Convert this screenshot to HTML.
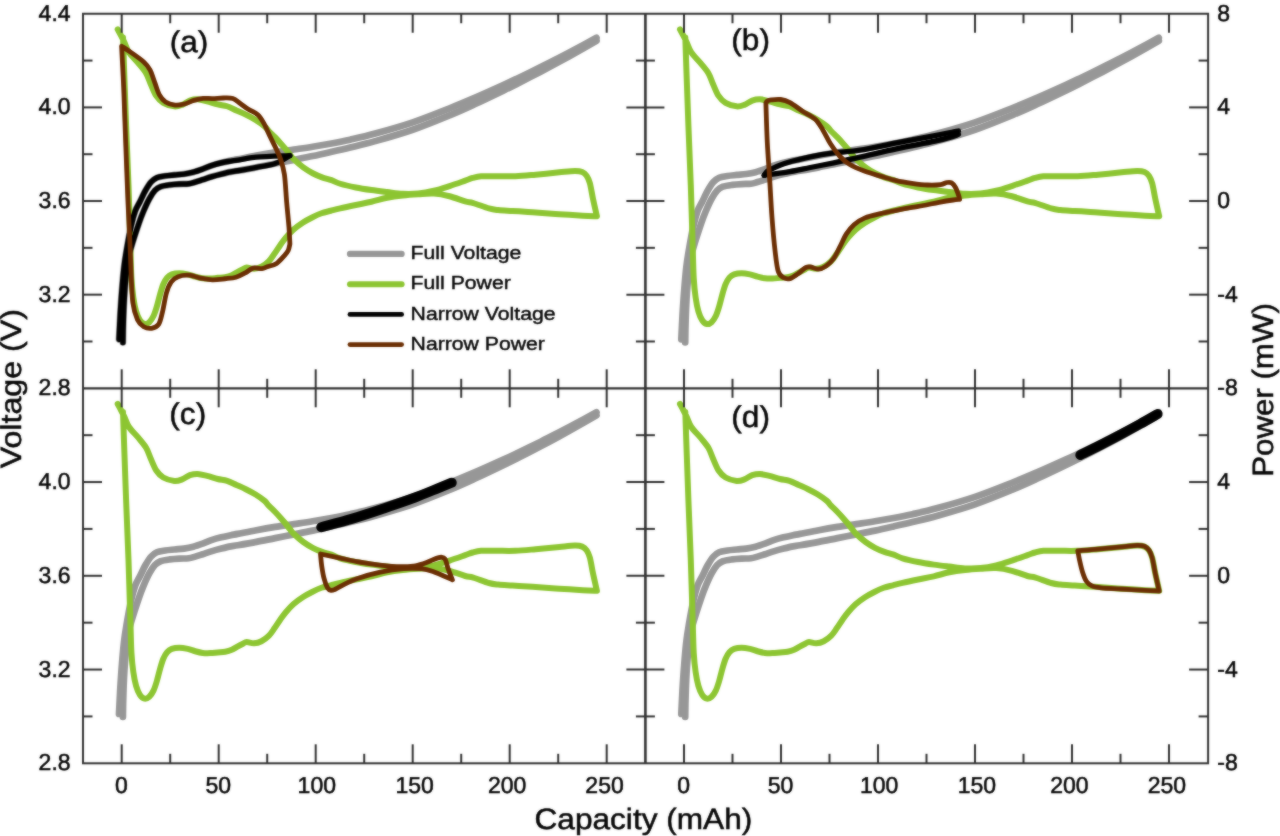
<!DOCTYPE html>
<html lang="en"><head><meta charset="utf-8"><title>Voltage and power vs capacity</title>
<style>
html,body{margin:0;padding:0;background:#fff;}
body{width:1280px;height:836px;overflow:hidden;position:relative;font-family:"Liberation Sans",Arial,sans-serif;}
</style></head><body>
<svg width="1280" height="836" viewBox="0 0 1280 836" style="position:absolute;left:0;top:0;display:block">
<defs><filter id="soft" x="0" y="0" width="1280" height="836" filterUnits="userSpaceOnUse" color-interpolation-filters="sRGB"><feGaussianBlur in="SourceGraphic" stdDeviation="0.8" result="b"/><feComposite in="SourceGraphic" in2="b" operator="arithmetic" k1="0" k2="0.5" k3="0.5" k4="0"/></filter></defs>
<g filter="url(#soft)">
<rect width="1280" height="836" fill="#fff"/>
<path d="M122.90 342.45 C122.95 339.62 123.03 331.62 123.20 325.45 C123.37 319.28 123.55 312.45 123.90 305.45 C124.25 298.45 124.62 290.95 125.30 283.45 C125.98 275.95 127.02 266.47 128.00 260.45 C128.98 254.43 129.37 253.55 131.20 247.35 C133.03 241.15 136.88 229.30 138.95 223.25 C141.02 217.20 141.87 215.12 143.60 211.05 C145.32 206.98 147.42 202.28 149.30 198.85 C151.18 195.42 153.03 192.47 154.90 190.45 C156.77 188.42 158.00 187.63 160.50 186.70 C163.00 185.77 166.77 185.29 169.90 184.85 C173.03 184.41 176.18 184.23 179.30 184.05 C182.42 183.87 185.95 184.08 188.60 183.75 C191.25 183.42 192.85 182.73 195.20 182.05 C197.55 181.37 199.88 180.57 202.70 179.65 C205.52 178.73 208.97 177.48 212.10 176.55 C215.22 175.62 218.33 174.83 221.45 174.05 C224.57 173.27 228.09 172.40 230.80 171.85 C233.51 171.30 233.42 171.50 237.70 170.75 C241.97 170.00 250.20 168.55 256.45 167.35 C262.70 166.15 268.95 164.80 275.20 163.55 C281.45 162.30 287.70 161.10 293.95 159.85 C300.20 158.60 306.45 157.38 312.70 156.05 C318.95 154.72 325.20 153.28 331.45 151.85 C337.70 150.42 342.91 149.23 350.20 147.45 C357.49 145.67 364.78 144.10 375.20 141.15 C385.62 138.20 400.20 134.10 412.70 129.75 C425.20 125.40 439.78 119.34 450.20 115.05 C460.62 110.76 466.35 108.07 475.20 104.00 C484.05 99.93 496.27 94.04 503.30 90.65 C510.33 87.26 511.17 86.81 517.40 83.65 C523.63 80.49 533.98 75.20 540.70 71.70 C547.42 68.20 551.53 66.01 557.70 62.65 C563.87 59.29 571.23 55.20 577.70 51.55 C584.17 47.90 593.37 42.55 596.50 40.75" fill="none" stroke="#979797" stroke-width="6.7" stroke-linecap="round" stroke-linejoin="round"/>
<path d="M119.00 339.45 C119.12 337.12 119.45 330.28 119.70 325.45 C119.95 320.62 120.13 316.28 120.50 310.45 C120.87 304.62 121.32 297.62 121.90 290.45 C122.48 283.28 123.23 274.12 124.00 267.45 C124.77 260.78 125.30 257.45 126.50 250.45 C127.70 243.45 129.75 232.02 131.20 225.45 C132.65 218.88 133.75 215.01 135.20 211.05 C136.65 207.09 138.18 205.13 139.90 201.70 C141.62 198.27 143.63 193.72 145.50 190.45 C147.37 187.17 149.22 184.17 151.10 182.05 C152.98 179.93 154.45 178.77 156.80 177.75 C159.15 176.73 162.23 176.42 165.20 175.95 C168.17 175.48 171.47 175.27 174.60 174.95 C177.72 174.63 180.83 174.52 183.95 174.05 C187.07 173.58 190.18 172.98 193.30 172.15 C196.43 171.32 199.57 170.18 202.70 169.05 C205.83 167.92 208.97 166.40 212.10 165.35 C215.22 164.30 218.33 163.53 221.45 162.75 C224.57 161.97 228.09 161.22 230.80 160.65 C233.51 160.08 233.42 160.18 237.70 159.35 C241.97 158.52 250.20 156.82 256.45 155.65 C262.70 154.48 268.95 153.37 275.20 152.35 C281.45 151.33 287.70 150.49 293.95 149.55 C300.20 148.61 306.45 147.72 312.70 146.70 C318.95 145.68 325.20 144.62 331.45 143.45 C337.70 142.28 342.91 141.30 350.20 139.65 C357.49 138.00 364.78 136.43 375.20 133.55 C385.62 130.67 400.20 126.60 412.70 122.35 C425.20 118.10 439.78 112.18 450.20 108.05 C460.62 103.93 466.35 101.43 475.20 97.60 C484.05 93.77 496.27 88.24 503.30 85.05 C510.33 81.86 511.17 81.44 517.40 78.45 C523.63 75.46 533.98 70.43 540.70 67.10 C547.42 63.77 551.53 61.64 557.70 58.45 C563.87 55.26 571.23 51.40 577.70 47.95 C584.17 44.50 593.37 39.45 596.50 37.75" fill="none" stroke="#979797" stroke-width="6.7" stroke-linecap="round" stroke-linejoin="round"/>
<path d="M117.70 29.45 C118.28 30.53 120.12 33.87 121.20 35.95 C122.28 38.03 122.90 39.20 124.20 41.95 C125.50 44.70 126.65 48.92 129.00 52.45 C131.35 55.98 135.45 59.68 138.30 63.15 C141.15 66.62 144.02 69.73 146.10 73.25 C148.18 76.77 149.10 80.47 150.80 84.25 C152.50 88.03 154.22 92.83 156.30 95.95 C158.38 99.07 160.30 101.22 163.30 102.95 C166.30 104.68 171.17 106.03 174.30 106.35 C177.43 106.67 179.50 105.80 182.10 104.85 C184.70 103.90 187.30 101.57 189.90 100.65 C192.50 99.73 194.83 99.23 197.70 99.35 C200.57 99.47 203.77 100.50 207.10 101.35 C210.43 102.20 214.37 103.63 217.70 104.45 C221.03 105.27 223.97 105.25 227.10 106.25 C230.22 107.25 233.33 109.05 236.45 110.45 C239.57 111.85 242.68 113.10 245.80 114.65 C248.93 116.20 252.07 117.80 255.20 119.75 C258.33 121.70 262.35 124.47 264.60 126.35 C266.85 128.23 266.93 129.20 268.70 131.05 C270.47 132.90 273.17 135.35 275.20 137.45 C277.23 139.55 279.12 141.65 280.90 143.65 C282.68 145.65 284.40 147.62 285.90 149.45 C287.40 151.28 288.56 152.98 289.90 154.65 C291.24 156.32 291.72 157.32 293.95 159.45 C296.18 161.58 300.18 165.15 303.30 167.45 C306.43 169.75 309.57 171.60 312.70 173.25 C315.83 174.90 318.97 176.20 322.10 177.35 C325.22 178.50 328.43 179.08 331.45 180.15 C334.47 181.22 336.14 182.53 340.20 183.75 C344.26 184.97 350.59 186.40 355.80 187.45 C361.01 188.50 366.23 189.28 371.45 190.05 C376.67 190.82 381.89 191.42 387.10 192.05 C392.31 192.68 397.50 193.60 402.70 193.85 C407.90 194.10 413.09 194.07 418.30 193.55 C423.51 193.03 428.73 192.00 433.95 190.75 C439.17 189.50 444.39 187.73 449.60 186.05 C454.81 184.37 461.35 182.00 465.20 180.65 C469.05 179.30 470.05 178.68 472.70 177.95 C475.35 177.22 477.10 176.53 481.10 176.25 C485.10 175.97 490.97 176.25 496.70 176.25 C502.43 176.25 509.00 176.52 515.50 176.25 C522.00 175.98 528.40 175.30 535.70 174.65 C543.00 174.00 552.77 172.95 559.30 172.35 C565.83 171.75 571.08 171.10 574.90 171.05 C578.72 171.00 580.23 171.25 582.20 172.05 C584.17 172.85 585.42 173.98 586.70 175.85 C587.98 177.72 588.85 179.42 589.90 183.25 C590.95 187.08 591.83 193.35 593.00 198.85 C594.17 204.35 596.25 213.35 596.90 216.25 L596.90 216.25 C594.53 216.15 588.97 216.00 582.70 215.65 C576.43 215.30 566.59 214.63 559.30 214.15 C552.01 213.67 544.17 213.12 538.95 212.75 C533.73 212.38 532.42 212.25 528.00 211.95 C523.58 211.65 517.35 211.27 512.40 210.95 C507.45 210.63 502.21 210.47 498.30 210.05 C494.39 209.63 493.12 209.62 488.95 208.45 C484.78 207.28 477.26 204.22 473.30 203.05 C469.34 201.88 469.15 202.58 465.20 201.45 C461.25 200.32 454.81 197.57 449.60 196.25 C444.39 194.93 439.17 193.89 433.95 193.55 C428.73 193.21 423.51 193.88 418.30 194.20 C413.09 194.52 407.90 194.86 402.70 195.45 C397.50 196.04 392.31 196.70 387.10 197.75 C381.89 198.80 376.67 200.55 371.45 201.75 C366.23 202.95 361.01 203.85 355.80 204.95 C350.59 206.05 344.37 207.38 340.20 208.35 C336.03 209.32 333.93 209.93 330.80 210.75 C327.68 211.57 324.57 212.13 321.45 213.25 C318.33 214.37 315.22 215.88 312.10 217.45 C308.97 219.02 305.83 220.62 302.70 222.65 C299.57 224.68 296.12 227.15 293.30 229.65 C290.48 232.15 287.98 235.07 285.80 237.65 C283.62 240.23 282.07 242.50 280.20 245.15 C278.33 247.80 276.47 250.90 274.60 253.55 C272.72 256.20 271.14 258.86 268.95 261.05 C266.76 263.24 263.95 265.42 261.45 266.70 C258.95 267.98 256.41 268.62 253.95 268.75 C251.49 268.87 248.53 267.38 246.70 267.45 C244.87 267.52 244.55 268.43 243.00 269.20 C241.45 269.97 239.27 271.04 237.40 272.05 C235.53 273.06 233.83 274.40 231.80 275.25 C229.77 276.10 227.55 276.72 225.20 277.15 C222.85 277.58 220.20 277.62 217.70 277.85 C215.20 278.08 212.70 278.47 210.20 278.55 C207.70 278.63 205.20 278.66 202.70 278.35 C200.20 278.04 197.70 277.37 195.20 276.70 C192.70 276.03 190.35 274.94 187.70 274.35 C185.05 273.76 181.95 273.15 179.30 273.15 C176.65 273.15 173.83 273.60 171.80 274.35 C169.77 275.10 168.52 276.01 167.10 277.65 C165.68 279.29 164.48 281.38 163.30 284.20 C162.12 287.02 161.08 290.80 160.00 294.55 C158.92 298.30 157.88 303.12 156.80 306.70 C155.72 310.28 154.75 313.48 153.50 316.05 C152.25 318.62 150.78 320.82 149.30 322.15 C147.82 323.48 146.17 324.37 144.60 324.05 C143.03 323.73 141.32 322.37 139.90 320.25 C138.48 318.13 137.20 315.17 136.10 311.35 C135.00 307.53 134.08 302.82 133.30 297.35 C132.53 291.88 131.92 286.37 131.45 278.55 C130.98 270.73 130.99 265.97 130.50 250.45 C130.01 234.93 129.23 206.28 128.50 185.45 C127.77 164.62 126.80 143.78 126.10 125.45 C125.40 107.12 124.82 90.12 124.30 75.45 C123.78 60.78 123.22 43.78 123.00 37.45" fill="none" stroke="#8cc531" stroke-width="6" stroke-linecap="round" stroke-linejoin="round"/>
<path d="M122.90 342.45 C122.95 339.62 123.03 331.62 123.20 325.45 C123.37 319.28 123.55 312.45 123.90 305.45 C124.25 298.45 124.62 290.95 125.30 283.45 C125.98 275.95 127.02 266.47 128.00 260.45 C128.98 254.43 129.37 253.55 131.20 247.35 C133.03 241.15 136.88 229.30 138.95 223.25 C141.02 217.20 141.87 215.12 143.60 211.05 C145.32 206.98 147.42 202.28 149.30 198.85 C151.18 195.42 153.03 192.47 154.90 190.45 C156.77 188.42 158.00 187.63 160.50 186.70 C163.00 185.77 166.77 185.29 169.90 184.85 C173.03 184.41 176.18 184.23 179.30 184.05 C182.42 183.87 185.95 184.08 188.60 183.75 C191.25 183.42 192.85 182.73 195.20 182.05 C197.55 181.37 199.88 180.57 202.70 179.65 C205.52 178.73 208.97 177.48 212.10 176.55 C215.22 175.62 218.33 174.83 221.45 174.05 C224.57 173.27 228.09 172.40 230.80 171.85 C233.51 171.30 233.42 171.50 237.70 170.75 C241.97 170.00 250.20 168.55 256.45 167.35 C262.70 166.15 269.64 165.51 275.20 163.55 C280.76 161.59 287.37 156.93 289.80 155.60" fill="none" stroke="#000" stroke-width="5.4" stroke-linecap="round" stroke-linejoin="round"/>
<path d="M119.00 339.45 C119.12 337.12 119.45 330.28 119.70 325.45 C119.95 320.62 120.13 316.28 120.50 310.45 C120.87 304.62 121.32 297.62 121.90 290.45 C122.48 283.28 123.23 274.12 124.00 267.45 C124.77 260.78 125.30 257.45 126.50 250.45 C127.70 243.45 129.75 232.02 131.20 225.45 C132.65 218.88 133.75 215.01 135.20 211.05 C136.65 207.09 138.18 205.13 139.90 201.70 C141.62 198.27 143.63 193.72 145.50 190.45 C147.37 187.17 149.22 184.17 151.10 182.05 C152.98 179.93 154.45 178.77 156.80 177.75 C159.15 176.73 162.23 176.42 165.20 175.95 C168.17 175.48 171.47 175.27 174.60 174.95 C177.72 174.63 180.83 174.52 183.95 174.05 C187.07 173.58 190.18 172.98 193.30 172.15 C196.43 171.32 199.57 170.18 202.70 169.05 C205.83 167.92 208.97 166.40 212.10 165.35 C215.22 164.30 218.33 163.47 221.45 162.75 C224.57 162.03 228.09 161.50 230.80 161.05 C233.51 160.60 233.42 160.70 237.70 160.06 C241.97 159.41 247.77 157.93 256.45 157.18 C265.13 156.44 284.24 155.86 289.80 155.60" fill="none" stroke="#000" stroke-width="5.4" stroke-linecap="round" stroke-linejoin="round"/>
<path d="M131.00 269.70 C130.87 266.32 130.70 260.60 130.20 249.40 C129.70 238.20 128.77 220.73 128.00 202.50 C127.23 184.27 126.30 158.75 125.60 140.00 C124.90 121.25 124.47 105.63 123.80 90.00 C123.13 74.37 121.97 53.50 121.60 46.20 L121.60 46.20 C123.21 47.27 127.56 49.97 131.25 52.60 C134.94 55.23 140.62 59.12 143.75 62.00 C146.88 64.88 148.18 66.50 150.00 69.90 C151.82 73.30 153.13 78.23 154.70 82.40 C156.27 86.57 157.58 91.63 159.40 94.90 C161.22 98.17 163.00 100.30 165.60 102.00 C168.20 103.70 171.87 104.77 175.00 105.10 C178.13 105.43 181.28 104.78 184.40 104.00 C187.53 103.22 190.63 101.33 193.75 100.40 C196.87 99.47 199.97 98.70 203.10 98.40 C206.22 98.10 209.12 98.67 212.50 98.60 C215.88 98.53 220.02 98.00 223.40 98.00 C226.78 98.00 229.93 97.63 232.80 98.60 C235.67 99.57 238.00 102.02 240.60 103.80 C243.20 105.58 245.53 107.47 248.40 109.30 C251.27 111.12 255.20 112.37 257.80 114.75 C260.40 117.13 261.92 119.89 264.00 123.60 C266.08 127.31 268.30 132.85 270.30 137.00 C272.30 141.15 274.30 144.83 276.00 148.50 C277.70 152.17 279.10 154.68 280.50 159.00 C281.90 163.32 283.37 167.15 284.40 174.40 C285.43 181.65 285.93 193.65 286.70 202.50 C287.47 211.35 288.47 220.58 289.00 227.50 C289.53 234.42 289.75 241.25 289.90 244.00 L289.90 244.00 C289.62 245.08 289.12 248.57 288.20 250.50 C287.28 252.43 286.33 253.45 284.40 255.60 C282.47 257.75 279.47 261.53 276.60 263.40 C273.73 265.27 269.63 265.93 267.20 266.80 C264.77 267.67 264.35 268.38 262.00 268.60 C259.65 268.82 255.88 267.40 253.10 268.10 C250.32 268.80 248.17 271.28 245.30 272.80 C242.43 274.32 239.28 276.21 235.90 277.20 C232.52 278.19 228.90 278.32 225.00 278.75 C221.10 279.18 216.40 279.88 212.50 279.80 C208.60 279.73 205.52 279.07 201.60 278.30 C197.68 277.53 192.92 275.47 189.00 275.20 C185.08 274.93 181.08 275.53 178.10 276.70 C175.12 277.87 173.05 279.47 171.10 282.20 C169.15 284.93 167.83 288.15 166.40 293.10 C164.97 298.05 163.80 306.68 162.50 311.90 C161.20 317.12 160.42 321.67 158.60 324.40 C156.78 327.13 154.07 327.92 151.60 328.30 C149.12 328.68 146.10 328.13 143.75 326.70 C141.40 325.27 139.32 323.73 137.50 319.70 C135.68 315.67 133.88 310.83 132.80 302.50 C131.72 294.17 131.30 275.17 131.00 269.70 Z" fill="none" stroke="#6a2d02" stroke-width="4.8" stroke-linejoin="round" stroke-linecap="round"/>
<path d="M685.20 342.45 C685.25 339.62 685.33 331.62 685.50 325.45 C685.67 319.28 685.85 312.45 686.20 305.45 C686.55 298.45 686.92 290.95 687.60 283.45 C688.28 275.95 689.32 266.47 690.30 260.45 C691.28 254.43 691.67 253.55 693.50 247.35 C695.33 241.15 699.18 229.30 701.25 223.25 C703.32 217.20 704.17 215.12 705.90 211.05 C707.62 206.98 709.72 202.28 711.60 198.85 C713.48 195.42 715.33 192.47 717.20 190.45 C719.07 188.42 720.30 187.63 722.80 186.70 C725.30 185.77 729.07 185.29 732.20 184.85 C735.33 184.41 738.48 184.23 741.60 184.05 C744.72 183.87 748.25 184.08 750.90 183.75 C753.55 183.42 755.15 182.73 757.50 182.05 C759.85 181.37 762.18 180.57 765.00 179.65 C767.82 178.73 771.27 177.48 774.40 176.55 C777.52 175.62 780.63 174.83 783.75 174.05 C786.87 173.27 790.39 172.40 793.10 171.85 C795.81 171.30 795.73 171.50 800.00 170.75 C804.27 170.00 812.50 168.55 818.75 167.35 C825.00 166.15 831.25 164.80 837.50 163.55 C843.75 162.30 850.00 161.10 856.25 159.85 C862.50 158.60 868.75 157.38 875.00 156.05 C881.25 154.72 887.50 153.28 893.75 151.85 C900.00 150.42 905.21 149.23 912.50 147.45 C919.79 145.67 927.08 144.10 937.50 141.15 C947.92 138.20 962.50 134.10 975.00 129.75 C987.50 125.40 1002.08 119.34 1012.50 115.05 C1022.92 110.76 1028.65 108.07 1037.50 104.00 C1046.35 99.93 1058.57 94.04 1065.60 90.65 C1072.63 87.26 1073.47 86.81 1079.70 83.65 C1085.93 80.49 1096.28 75.20 1103.00 71.70 C1109.72 68.20 1113.83 66.01 1120.00 62.65 C1126.17 59.29 1133.53 55.20 1140.00 51.55 C1146.47 47.90 1155.67 42.55 1158.80 40.75" fill="none" stroke="#979797" stroke-width="6.7" stroke-linecap="round" stroke-linejoin="round"/>
<path d="M681.30 339.45 C681.42 337.12 681.75 330.28 682.00 325.45 C682.25 320.62 682.43 316.28 682.80 310.45 C683.17 304.62 683.62 297.62 684.20 290.45 C684.78 283.28 685.53 274.12 686.30 267.45 C687.07 260.78 687.60 257.45 688.80 250.45 C690.00 243.45 692.05 232.02 693.50 225.45 C694.95 218.88 696.05 215.01 697.50 211.05 C698.95 207.09 700.48 205.13 702.20 201.70 C703.92 198.27 705.93 193.72 707.80 190.45 C709.67 187.17 711.52 184.17 713.40 182.05 C715.28 179.93 716.75 178.77 719.10 177.75 C721.45 176.73 724.53 176.42 727.50 175.95 C730.47 175.48 733.77 175.27 736.90 174.95 C740.02 174.63 743.13 174.52 746.25 174.05 C749.37 173.58 752.48 172.98 755.60 172.15 C758.73 171.32 761.87 170.18 765.00 169.05 C768.13 167.92 771.27 166.40 774.40 165.35 C777.52 164.30 780.63 163.53 783.75 162.75 C786.87 161.97 790.39 161.22 793.10 160.65 C795.81 160.08 795.73 160.18 800.00 159.35 C804.27 158.52 812.50 156.82 818.75 155.65 C825.00 154.48 831.25 153.37 837.50 152.35 C843.75 151.33 850.00 150.49 856.25 149.55 C862.50 148.61 868.75 147.72 875.00 146.70 C881.25 145.68 887.50 144.62 893.75 143.45 C900.00 142.28 905.21 141.30 912.50 139.65 C919.79 138.00 927.08 136.43 937.50 133.55 C947.92 130.67 962.50 126.60 975.00 122.35 C987.50 118.10 1002.08 112.18 1012.50 108.05 C1022.92 103.93 1028.65 101.43 1037.50 97.60 C1046.35 93.77 1058.57 88.24 1065.60 85.05 C1072.63 81.86 1073.47 81.44 1079.70 78.45 C1085.93 75.46 1096.28 70.43 1103.00 67.10 C1109.72 63.77 1113.83 61.64 1120.00 58.45 C1126.17 55.26 1133.53 51.40 1140.00 47.95 C1146.47 44.50 1155.67 39.45 1158.80 37.75" fill="none" stroke="#979797" stroke-width="6.7" stroke-linecap="round" stroke-linejoin="round"/>
<path d="M680.00 29.45 C680.58 30.53 682.42 33.87 683.50 35.95 C684.58 38.03 685.20 39.20 686.50 41.95 C687.80 44.70 688.95 48.92 691.30 52.45 C693.65 55.98 697.75 59.68 700.60 63.15 C703.45 66.62 706.32 69.73 708.40 73.25 C710.48 76.77 711.40 80.47 713.10 84.25 C714.80 88.03 716.52 92.83 718.60 95.95 C720.68 99.07 722.60 101.22 725.60 102.95 C728.60 104.68 733.47 106.03 736.60 106.35 C739.73 106.67 741.80 105.80 744.40 104.85 C747.00 103.90 749.60 101.57 752.20 100.65 C754.80 99.73 757.13 99.23 760.00 99.35 C762.87 99.47 766.07 100.50 769.40 101.35 C772.73 102.20 776.67 103.63 780.00 104.45 C783.33 105.27 786.27 105.25 789.40 106.25 C792.52 107.25 795.63 109.05 798.75 110.45 C801.87 111.85 804.98 113.10 808.10 114.65 C811.23 116.20 814.37 117.80 817.50 119.75 C820.63 121.70 824.65 124.47 826.90 126.35 C829.15 128.23 829.23 129.20 831.00 131.05 C832.77 132.90 835.47 135.35 837.50 137.45 C839.53 139.55 841.42 141.65 843.20 143.65 C844.98 145.65 846.70 147.62 848.20 149.45 C849.70 151.28 850.86 152.98 852.20 154.65 C853.54 156.32 854.02 157.32 856.25 159.45 C858.48 161.58 862.48 165.15 865.60 167.45 C868.73 169.75 871.87 171.60 875.00 173.25 C878.13 174.90 881.27 176.20 884.40 177.35 C887.52 178.50 890.73 179.08 893.75 180.15 C896.77 181.22 898.44 182.53 902.50 183.75 C906.56 184.97 912.89 186.40 918.10 187.45 C923.31 188.50 928.53 189.28 933.75 190.05 C938.97 190.82 944.19 191.42 949.40 192.05 C954.61 192.68 959.80 193.60 965.00 193.85 C970.20 194.10 975.39 194.07 980.60 193.55 C985.81 193.03 991.03 192.00 996.25 190.75 C1001.47 189.50 1006.69 187.73 1011.90 186.05 C1017.11 184.37 1023.65 182.00 1027.50 180.65 C1031.35 179.30 1032.35 178.68 1035.00 177.95 C1037.65 177.22 1039.40 176.53 1043.40 176.25 C1047.40 175.97 1053.27 176.25 1059.00 176.25 C1064.73 176.25 1071.30 176.52 1077.80 176.25 C1084.30 175.98 1090.70 175.30 1098.00 174.65 C1105.30 174.00 1115.07 172.95 1121.60 172.35 C1128.13 171.75 1133.38 171.10 1137.20 171.05 C1141.02 171.00 1142.53 171.25 1144.50 172.05 C1146.47 172.85 1147.72 173.98 1149.00 175.85 C1150.28 177.72 1151.15 179.42 1152.20 183.25 C1153.25 187.08 1154.13 193.35 1155.30 198.85 C1156.47 204.35 1158.55 213.35 1159.20 216.25 L1159.20 216.25 C1156.83 216.15 1151.27 216.00 1145.00 215.65 C1138.73 215.30 1128.89 214.63 1121.60 214.15 C1114.31 213.67 1106.47 213.12 1101.25 212.75 C1096.03 212.38 1094.72 212.25 1090.30 211.95 C1085.88 211.65 1079.65 211.27 1074.70 210.95 C1069.75 210.63 1064.51 210.47 1060.60 210.05 C1056.69 209.63 1055.42 209.62 1051.25 208.45 C1047.08 207.28 1039.56 204.22 1035.60 203.05 C1031.64 201.88 1031.45 202.58 1027.50 201.45 C1023.55 200.32 1017.11 197.57 1011.90 196.25 C1006.69 194.93 1001.47 193.89 996.25 193.55 C991.03 193.21 985.81 193.88 980.60 194.20 C975.39 194.52 970.20 194.86 965.00 195.45 C959.80 196.04 954.61 196.70 949.40 197.75 C944.19 198.80 938.97 200.55 933.75 201.75 C928.53 202.95 923.31 203.85 918.10 204.95 C912.89 206.05 906.67 207.38 902.50 208.35 C898.33 209.32 896.23 209.93 893.10 210.75 C889.98 211.57 886.87 212.13 883.75 213.25 C880.63 214.37 877.52 215.88 874.40 217.45 C871.27 219.02 868.13 220.62 865.00 222.65 C861.87 224.68 858.42 227.15 855.60 229.65 C852.78 232.15 850.28 235.07 848.10 237.65 C845.92 240.23 844.37 242.50 842.50 245.15 C840.63 247.80 838.77 250.90 836.90 253.55 C835.02 256.20 833.44 258.86 831.25 261.05 C829.06 263.24 826.25 265.42 823.75 266.70 C821.25 267.98 818.71 268.62 816.25 268.75 C813.79 268.87 810.83 267.38 809.00 267.45 C807.17 267.52 806.85 268.43 805.30 269.20 C803.75 269.97 801.57 271.04 799.70 272.05 C797.83 273.06 796.13 274.40 794.10 275.25 C792.07 276.10 789.85 276.72 787.50 277.15 C785.15 277.58 782.50 277.62 780.00 277.85 C777.50 278.08 775.00 278.47 772.50 278.55 C770.00 278.63 767.50 278.66 765.00 278.35 C762.50 278.04 760.00 277.37 757.50 276.70 C755.00 276.03 752.65 274.94 750.00 274.35 C747.35 273.76 744.25 273.15 741.60 273.15 C738.95 273.15 736.13 273.60 734.10 274.35 C732.07 275.10 730.82 276.01 729.40 277.65 C727.98 279.29 726.78 281.38 725.60 284.20 C724.42 287.02 723.38 290.80 722.30 294.55 C721.22 298.30 720.18 303.12 719.10 306.70 C718.02 310.28 717.05 313.48 715.80 316.05 C714.55 318.62 713.08 320.82 711.60 322.15 C710.12 323.48 708.47 324.37 706.90 324.05 C705.33 323.73 703.62 322.37 702.20 320.25 C700.78 318.13 699.50 315.17 698.40 311.35 C697.30 307.53 696.38 302.82 695.60 297.35 C694.83 291.88 694.22 286.37 693.75 278.55 C693.28 270.73 693.29 265.97 692.80 250.45 C692.31 234.93 691.53 206.28 690.80 185.45 C690.07 164.62 689.10 143.78 688.40 125.45 C687.70 107.12 687.12 90.12 686.60 75.45 C686.08 60.78 685.52 43.78 685.30 37.45" fill="none" stroke="#8cc531" stroke-width="6" stroke-linecap="round" stroke-linejoin="round"/>
<path d="M764.20 175.30 C767.98 174.78 779.22 173.50 786.90 172.20 C794.58 170.90 802.49 169.07 810.30 167.50 C818.11 165.93 825.47 164.52 833.75 162.80 C842.03 161.08 849.38 159.57 860.00 157.20 C870.62 154.83 885.00 151.27 897.50 148.60 C910.00 145.93 925.62 143.27 935.00 141.20 C944.38 139.13 949.85 137.37 953.75 136.20 C957.65 135.03 957.62 134.53 958.40 134.20" fill="none" stroke="#000" stroke-width="5.3" stroke-linecap="round" stroke-linejoin="round"/>
<path d="M764.20 175.30 C764.67 174.67 765.83 172.55 767.00 171.50 C768.17 170.45 767.93 170.45 771.25 169.00 C774.57 167.55 780.39 164.82 786.90 162.80 C793.41 160.78 802.49 158.55 810.30 156.90 C818.11 155.25 825.47 154.02 833.75 152.90 C842.03 151.78 849.38 151.92 860.00 150.20 C870.62 148.48 885.00 145.03 897.50 142.60 C910.00 140.17 925.62 137.40 935.00 135.60 C944.38 133.80 949.85 132.57 953.75 131.80 C957.65 131.03 957.62 131.13 958.40 131.00" fill="none" stroke="#000" stroke-width="5.3" stroke-linecap="round" stroke-linejoin="round"/>
<path d="M765.90 103.10 C766.13 102.77 766.41 101.63 767.30 101.10 C768.19 100.57 769.03 100.17 771.25 99.90 C773.47 99.63 777.48 99.05 780.60 99.50 C783.73 99.95 786.35 100.65 790.00 102.60 C793.65 104.55 798.33 108.47 802.50 111.20 C806.67 113.93 811.62 115.88 815.00 119.00 C818.38 122.12 820.20 125.73 822.80 129.90 C825.40 134.07 827.73 139.57 830.60 144.00 C833.47 148.43 836.87 153.12 840.00 156.50 C843.13 159.88 845.23 161.83 849.40 164.30 C853.57 166.78 859.80 169.38 865.00 171.35 C870.20 173.32 875.39 174.56 880.60 176.10 C885.81 177.64 891.03 179.40 896.25 180.60 C901.47 181.80 906.69 182.57 911.90 183.30 C917.11 184.03 922.72 184.78 927.50 185.00 C932.28 185.22 937.37 185.02 940.60 184.60 C943.83 184.18 945.07 182.80 946.90 182.50 C948.73 182.20 950.17 181.97 951.60 182.80 C953.03 183.63 954.33 185.42 955.50 187.50 C956.67 189.58 957.92 193.32 958.60 195.30 C959.28 197.28 959.43 198.72 959.60 199.40 L959.60 199.40 C958.52 199.50 956.53 199.52 953.10 200.00 C949.67 200.48 943.95 201.38 939.00 202.30 C934.05 203.22 927.92 204.65 923.40 205.50 C918.88 206.35 916.42 206.60 911.90 207.40 C907.38 208.20 901.47 209.27 896.25 210.30 C891.03 211.33 885.81 212.33 880.60 213.60 C875.39 214.87 869.43 216.05 865.00 217.90 C860.57 219.75 857.12 222.00 854.00 224.70 C850.88 227.40 848.58 230.45 846.25 234.10 C843.92 237.75 842.08 242.57 840.00 246.60 C837.92 250.63 836.10 255.05 833.75 258.30 C831.40 261.55 828.51 264.28 825.90 266.10 C823.29 267.92 820.70 269.07 818.10 269.20 C815.50 269.33 812.38 267.15 810.30 266.90 C808.22 266.65 807.68 266.53 805.60 267.70 C803.52 268.87 800.40 272.08 797.80 273.90 C795.20 275.72 792.34 277.95 790.00 278.60 C787.66 279.25 785.70 278.97 783.75 277.80 C781.80 276.63 779.74 276.03 778.30 271.60 C776.86 267.18 776.16 260.37 775.10 251.25 C774.04 242.13 772.87 229.11 771.95 216.90 C771.03 204.69 770.38 190.40 769.60 178.00 C768.83 165.60 767.92 154.98 767.30 142.50 C766.68 130.02 766.13 109.67 765.90 103.10 Z" fill="none" stroke="#6a2d02" stroke-width="4.8" stroke-linejoin="round" stroke-linecap="round"/>
<path d="M122.90 717.00 C122.95 714.17 123.03 706.17 123.20 700.00 C123.37 693.83 123.55 687.00 123.90 680.00 C124.25 673.00 124.62 665.50 125.30 658.00 C125.98 650.50 127.02 641.02 128.00 635.00 C128.98 628.98 129.37 628.10 131.20 621.90 C133.03 615.70 136.88 603.85 138.95 597.80 C141.02 591.75 141.87 589.67 143.60 585.60 C145.32 581.53 147.42 576.83 149.30 573.40 C151.18 569.97 153.03 567.02 154.90 565.00 C156.77 562.98 158.00 562.18 160.50 561.25 C163.00 560.32 166.77 559.84 169.90 559.40 C173.03 558.96 176.18 558.78 179.30 558.60 C182.42 558.42 185.95 558.63 188.60 558.30 C191.25 557.97 192.85 557.28 195.20 556.60 C197.55 555.92 199.88 555.12 202.70 554.20 C205.52 553.28 208.97 552.03 212.10 551.10 C215.22 550.17 218.33 549.38 221.45 548.60 C224.57 547.82 228.09 546.95 230.80 546.40 C233.51 545.85 233.42 546.05 237.70 545.30 C241.97 544.55 250.20 543.10 256.45 541.90 C262.70 540.70 268.95 539.35 275.20 538.10 C281.45 536.85 287.70 535.65 293.95 534.40 C300.20 533.15 306.45 531.93 312.70 530.60 C318.95 529.27 325.20 527.83 331.45 526.40 C337.70 524.97 342.91 523.78 350.20 522.00 C357.49 520.22 364.78 518.65 375.20 515.70 C385.62 512.75 400.20 508.65 412.70 504.30 C425.20 499.95 439.78 493.89 450.20 489.60 C460.62 485.31 466.35 482.62 475.20 478.55 C484.05 474.48 496.27 468.59 503.30 465.20 C510.33 461.81 511.17 461.36 517.40 458.20 C523.63 455.04 533.98 449.75 540.70 446.25 C547.42 442.75 551.53 440.56 557.70 437.20 C563.87 433.84 571.23 429.75 577.70 426.10 C584.17 422.45 593.37 417.10 596.50 415.30" fill="none" stroke="#979797" stroke-width="6.7" stroke-linecap="round" stroke-linejoin="round"/>
<path d="M119.00 714.00 C119.12 711.67 119.45 704.83 119.70 700.00 C119.95 695.17 120.13 690.83 120.50 685.00 C120.87 679.17 121.32 672.17 121.90 665.00 C122.48 657.83 123.23 648.67 124.00 642.00 C124.77 635.33 125.30 632.00 126.50 625.00 C127.70 618.00 129.75 606.57 131.20 600.00 C132.65 593.43 133.75 589.56 135.20 585.60 C136.65 581.64 138.18 579.68 139.90 576.25 C141.62 572.82 143.63 568.27 145.50 565.00 C147.37 561.73 149.22 558.72 151.10 556.60 C152.98 554.48 154.45 553.32 156.80 552.30 C159.15 551.28 162.23 550.97 165.20 550.50 C168.17 550.03 171.47 549.82 174.60 549.50 C177.72 549.18 180.83 549.07 183.95 548.60 C187.07 548.13 190.18 547.53 193.30 546.70 C196.43 545.87 199.57 544.73 202.70 543.60 C205.83 542.47 208.97 540.95 212.10 539.90 C215.22 538.85 218.33 538.08 221.45 537.30 C224.57 536.52 228.09 535.77 230.80 535.20 C233.51 534.63 233.42 534.73 237.70 533.90 C241.97 533.07 250.20 531.37 256.45 530.20 C262.70 529.03 268.95 527.92 275.20 526.90 C281.45 525.88 287.70 525.04 293.95 524.10 C300.20 523.16 306.45 522.27 312.70 521.25 C318.95 520.23 325.20 519.17 331.45 518.00 C337.70 516.83 342.91 515.85 350.20 514.20 C357.49 512.55 364.78 510.98 375.20 508.10 C385.62 505.22 400.20 501.15 412.70 496.90 C425.20 492.65 439.78 486.73 450.20 482.60 C460.62 478.48 466.35 475.98 475.20 472.15 C484.05 468.32 496.27 462.79 503.30 459.60 C510.33 456.41 511.17 455.99 517.40 453.00 C523.63 450.01 533.98 444.98 540.70 441.65 C547.42 438.32 551.53 436.19 557.70 433.00 C563.87 429.81 571.23 425.95 577.70 422.50 C584.17 419.05 593.37 414.00 596.50 412.30" fill="none" stroke="#979797" stroke-width="6.7" stroke-linecap="round" stroke-linejoin="round"/>
<path d="M117.70 404.00 C118.28 405.08 120.12 408.42 121.20 410.50 C122.28 412.58 122.90 413.75 124.20 416.50 C125.50 419.25 126.65 423.47 129.00 427.00 C131.35 430.53 135.45 434.23 138.30 437.70 C141.15 441.17 144.02 444.28 146.10 447.80 C148.18 451.32 149.10 455.02 150.80 458.80 C152.50 462.58 154.22 467.38 156.30 470.50 C158.38 473.62 160.30 475.77 163.30 477.50 C166.30 479.23 171.17 480.58 174.30 480.90 C177.43 481.22 179.50 480.35 182.10 479.40 C184.70 478.45 187.30 476.12 189.90 475.20 C192.50 474.28 194.83 473.78 197.70 473.90 C200.57 474.02 203.77 475.05 207.10 475.90 C210.43 476.75 214.37 478.18 217.70 479.00 C221.03 479.82 223.97 479.80 227.10 480.80 C230.22 481.80 233.33 483.60 236.45 485.00 C239.57 486.40 242.68 487.65 245.80 489.20 C248.93 490.75 252.07 492.35 255.20 494.30 C258.33 496.25 262.35 499.02 264.60 500.90 C266.85 502.78 266.93 503.75 268.70 505.60 C270.47 507.45 273.17 509.90 275.20 512.00 C277.23 514.10 279.12 516.20 280.90 518.20 C282.68 520.20 284.40 522.17 285.90 524.00 C287.40 525.83 288.56 527.53 289.90 529.20 C291.24 530.87 291.72 531.87 293.95 534.00 C296.18 536.13 300.18 539.70 303.30 542.00 C306.43 544.30 309.57 546.15 312.70 547.80 C315.83 549.45 318.97 550.75 322.10 551.90 C325.22 553.05 328.43 553.63 331.45 554.70 C334.47 555.77 336.14 557.08 340.20 558.30 C344.26 559.52 350.59 560.95 355.80 562.00 C361.01 563.05 366.23 563.83 371.45 564.60 C376.67 565.37 381.89 565.97 387.10 566.60 C392.31 567.23 397.50 568.15 402.70 568.40 C407.90 568.65 413.09 568.62 418.30 568.10 C423.51 567.58 428.73 566.55 433.95 565.30 C439.17 564.05 444.39 562.28 449.60 560.60 C454.81 558.92 461.35 556.55 465.20 555.20 C469.05 553.85 470.05 553.23 472.70 552.50 C475.35 551.77 477.10 551.08 481.10 550.80 C485.10 550.52 490.97 550.80 496.70 550.80 C502.43 550.80 509.00 551.07 515.50 550.80 C522.00 550.53 528.40 549.85 535.70 549.20 C543.00 548.55 552.77 547.50 559.30 546.90 C565.83 546.30 571.08 545.65 574.90 545.60 C578.72 545.55 580.23 545.80 582.20 546.60 C584.17 547.40 585.42 548.53 586.70 550.40 C587.98 552.27 588.85 553.97 589.90 557.80 C590.95 561.63 591.83 567.90 593.00 573.40 C594.17 578.90 596.25 587.90 596.90 590.80 L596.90 590.80 C594.53 590.70 588.97 590.55 582.70 590.20 C576.43 589.85 566.59 589.18 559.30 588.70 C552.01 588.22 544.17 587.67 538.95 587.30 C533.73 586.93 532.42 586.80 528.00 586.50 C523.58 586.20 517.35 585.82 512.40 585.50 C507.45 585.18 502.21 585.02 498.30 584.60 C494.39 584.18 493.12 584.17 488.95 583.00 C484.78 581.83 477.26 578.77 473.30 577.60 C469.34 576.43 469.15 577.13 465.20 576.00 C461.25 574.87 454.81 572.12 449.60 570.80 C444.39 569.48 439.17 568.44 433.95 568.10 C428.73 567.76 423.51 568.43 418.30 568.75 C413.09 569.07 407.90 569.41 402.70 570.00 C397.50 570.59 392.31 571.25 387.10 572.30 C381.89 573.35 376.67 575.10 371.45 576.30 C366.23 577.50 361.01 578.40 355.80 579.50 C350.59 580.60 344.37 581.93 340.20 582.90 C336.03 583.87 333.93 584.48 330.80 585.30 C327.68 586.12 324.57 586.68 321.45 587.80 C318.33 588.92 315.22 590.43 312.10 592.00 C308.97 593.57 305.83 595.17 302.70 597.20 C299.57 599.23 296.12 601.70 293.30 604.20 C290.48 606.70 287.98 609.62 285.80 612.20 C283.62 614.78 282.07 617.05 280.20 619.70 C278.33 622.35 276.47 625.45 274.60 628.10 C272.72 630.75 271.14 633.41 268.95 635.60 C266.76 637.79 263.95 639.97 261.45 641.25 C258.95 642.53 256.41 643.17 253.95 643.30 C251.49 643.42 248.53 641.92 246.70 642.00 C244.87 642.08 244.55 642.98 243.00 643.75 C241.45 644.52 239.27 645.59 237.40 646.60 C235.53 647.61 233.83 648.95 231.80 649.80 C229.77 650.65 227.55 651.27 225.20 651.70 C222.85 652.13 220.20 652.17 217.70 652.40 C215.20 652.63 212.70 653.02 210.20 653.10 C207.70 653.18 205.20 653.21 202.70 652.90 C200.20 652.59 197.70 651.92 195.20 651.25 C192.70 650.58 190.35 649.49 187.70 648.90 C185.05 648.31 181.95 647.70 179.30 647.70 C176.65 647.70 173.83 648.15 171.80 648.90 C169.77 649.65 168.52 650.56 167.10 652.20 C165.68 653.84 164.48 655.93 163.30 658.75 C162.12 661.57 161.08 665.35 160.00 669.10 C158.92 672.85 157.88 677.67 156.80 681.25 C155.72 684.83 154.75 688.02 153.50 690.60 C152.25 693.18 150.78 695.37 149.30 696.70 C147.82 698.03 146.17 698.92 144.60 698.60 C143.03 698.28 141.32 696.92 139.90 694.80 C138.48 692.68 137.20 689.72 136.10 685.90 C135.00 682.08 134.08 677.37 133.30 671.90 C132.53 666.43 131.92 660.92 131.45 653.10 C130.98 645.28 130.99 640.52 130.50 625.00 C130.01 609.48 129.23 580.83 128.50 560.00 C127.77 539.17 126.80 518.33 126.10 500.00 C125.40 481.67 124.82 464.67 124.30 450.00 C123.78 435.33 123.22 418.33 123.00 412.00" fill="none" stroke="#8cc531" stroke-width="6" stroke-linecap="round" stroke-linejoin="round"/>
<path d="M321.25 527.20 C326.46 525.77 342.08 521.73 352.50 518.60 C362.92 515.47 373.33 511.92 383.75 508.40 C394.17 504.88 405.89 500.88 415.00 497.50 C424.11 494.12 432.28 490.57 438.40 488.10 C444.52 485.63 449.48 483.60 451.70 482.70" fill="none" stroke="#000" stroke-width="10" stroke-linecap="round" stroke-linejoin="round"/>
<path d="M320.50 554.00 C323.63 554.63 333.23 556.52 339.30 557.80 C345.37 559.08 351.03 560.60 356.90 561.70 C362.77 562.80 368.65 563.62 374.50 564.40 C380.35 565.18 387.12 566.02 392.00 566.40 C396.88 566.78 399.83 566.80 403.75 566.70 C407.67 566.60 411.59 566.53 415.50 565.80 C419.41 565.07 424.28 563.32 427.20 562.30 C430.12 561.28 431.05 560.48 433.00 559.70 C434.95 558.92 437.43 558.00 438.90 557.60 C440.37 557.20 440.82 557.11 441.80 557.30 C442.78 557.49 444.02 557.82 444.80 558.75 C445.58 559.68 445.92 561.14 446.50 562.90 C447.08 564.66 447.32 566.48 448.30 569.30 C449.28 572.12 451.72 578.05 452.40 579.80 L452.40 579.80 C449.17 578.43 438.18 573.45 433.00 571.60 C427.82 569.75 426.18 569.18 421.30 568.70 C416.43 568.22 410.58 568.12 403.75 568.70 C396.92 569.28 388.11 570.53 380.30 572.20 C372.49 573.87 362.75 576.75 356.90 578.70 C351.05 580.65 348.82 582.15 345.20 583.90 C341.58 585.65 337.55 588.12 335.20 589.20 C332.85 590.28 332.37 590.60 331.10 590.40 C329.83 590.20 328.77 589.95 327.60 588.00 C326.43 586.05 325.08 582.40 324.10 578.70 C323.12 575.00 322.30 569.92 321.70 565.80 C321.10 561.68 320.70 555.97 320.50 554.00 Z" fill="none" stroke="#6a2d02" stroke-width="4.8" stroke-linejoin="round" stroke-linecap="round"/>
<path d="M685.20 717.00 C685.25 714.17 685.33 706.17 685.50 700.00 C685.67 693.83 685.85 687.00 686.20 680.00 C686.55 673.00 686.92 665.50 687.60 658.00 C688.28 650.50 689.32 641.02 690.30 635.00 C691.28 628.98 691.67 628.10 693.50 621.90 C695.33 615.70 699.18 603.85 701.25 597.80 C703.32 591.75 704.17 589.67 705.90 585.60 C707.62 581.53 709.72 576.83 711.60 573.40 C713.48 569.97 715.33 567.02 717.20 565.00 C719.07 562.98 720.30 562.18 722.80 561.25 C725.30 560.32 729.07 559.84 732.20 559.40 C735.33 558.96 738.48 558.78 741.60 558.60 C744.72 558.42 748.25 558.63 750.90 558.30 C753.55 557.97 755.15 557.28 757.50 556.60 C759.85 555.92 762.18 555.12 765.00 554.20 C767.82 553.28 771.27 552.03 774.40 551.10 C777.52 550.17 780.63 549.38 783.75 548.60 C786.87 547.82 790.39 546.95 793.10 546.40 C795.81 545.85 795.73 546.05 800.00 545.30 C804.27 544.55 812.50 543.10 818.75 541.90 C825.00 540.70 831.25 539.35 837.50 538.10 C843.75 536.85 850.00 535.65 856.25 534.40 C862.50 533.15 868.75 531.93 875.00 530.60 C881.25 529.27 887.50 527.83 893.75 526.40 C900.00 524.97 905.21 523.78 912.50 522.00 C919.79 520.22 927.08 518.65 937.50 515.70 C947.92 512.75 962.50 508.65 975.00 504.30 C987.50 499.95 1002.08 493.89 1012.50 489.60 C1022.92 485.31 1028.65 482.62 1037.50 478.55 C1046.35 474.48 1058.57 468.59 1065.60 465.20 C1072.63 461.81 1073.47 461.36 1079.70 458.20 C1085.93 455.04 1096.28 449.75 1103.00 446.25 C1109.72 442.75 1113.83 440.56 1120.00 437.20 C1126.17 433.84 1133.53 429.75 1140.00 426.10 C1146.47 422.45 1155.67 417.10 1158.80 415.30" fill="none" stroke="#979797" stroke-width="6.7" stroke-linecap="round" stroke-linejoin="round"/>
<path d="M681.30 714.00 C681.42 711.67 681.75 704.83 682.00 700.00 C682.25 695.17 682.43 690.83 682.80 685.00 C683.17 679.17 683.62 672.17 684.20 665.00 C684.78 657.83 685.53 648.67 686.30 642.00 C687.07 635.33 687.60 632.00 688.80 625.00 C690.00 618.00 692.05 606.57 693.50 600.00 C694.95 593.43 696.05 589.56 697.50 585.60 C698.95 581.64 700.48 579.68 702.20 576.25 C703.92 572.82 705.93 568.27 707.80 565.00 C709.67 561.73 711.52 558.72 713.40 556.60 C715.28 554.48 716.75 553.32 719.10 552.30 C721.45 551.28 724.53 550.97 727.50 550.50 C730.47 550.03 733.77 549.82 736.90 549.50 C740.02 549.18 743.13 549.07 746.25 548.60 C749.37 548.13 752.48 547.53 755.60 546.70 C758.73 545.87 761.87 544.73 765.00 543.60 C768.13 542.47 771.27 540.95 774.40 539.90 C777.52 538.85 780.63 538.08 783.75 537.30 C786.87 536.52 790.39 535.77 793.10 535.20 C795.81 534.63 795.73 534.73 800.00 533.90 C804.27 533.07 812.50 531.37 818.75 530.20 C825.00 529.03 831.25 527.92 837.50 526.90 C843.75 525.88 850.00 525.04 856.25 524.10 C862.50 523.16 868.75 522.27 875.00 521.25 C881.25 520.23 887.50 519.17 893.75 518.00 C900.00 516.83 905.21 515.85 912.50 514.20 C919.79 512.55 927.08 510.98 937.50 508.10 C947.92 505.22 962.50 501.15 975.00 496.90 C987.50 492.65 1002.08 486.73 1012.50 482.60 C1022.92 478.48 1028.65 475.98 1037.50 472.15 C1046.35 468.32 1058.57 462.79 1065.60 459.60 C1072.63 456.41 1073.47 455.99 1079.70 453.00 C1085.93 450.01 1096.28 444.98 1103.00 441.65 C1109.72 438.32 1113.83 436.19 1120.00 433.00 C1126.17 429.81 1133.53 425.95 1140.00 422.50 C1146.47 419.05 1155.67 414.00 1158.80 412.30" fill="none" stroke="#979797" stroke-width="6.7" stroke-linecap="round" stroke-linejoin="round"/>
<path d="M680.00 404.00 C680.58 405.08 682.42 408.42 683.50 410.50 C684.58 412.58 685.20 413.75 686.50 416.50 C687.80 419.25 688.95 423.47 691.30 427.00 C693.65 430.53 697.75 434.23 700.60 437.70 C703.45 441.17 706.32 444.28 708.40 447.80 C710.48 451.32 711.40 455.02 713.10 458.80 C714.80 462.58 716.52 467.38 718.60 470.50 C720.68 473.62 722.60 475.77 725.60 477.50 C728.60 479.23 733.47 480.58 736.60 480.90 C739.73 481.22 741.80 480.35 744.40 479.40 C747.00 478.45 749.60 476.12 752.20 475.20 C754.80 474.28 757.13 473.78 760.00 473.90 C762.87 474.02 766.07 475.05 769.40 475.90 C772.73 476.75 776.67 478.18 780.00 479.00 C783.33 479.82 786.27 479.80 789.40 480.80 C792.52 481.80 795.63 483.60 798.75 485.00 C801.87 486.40 804.98 487.65 808.10 489.20 C811.23 490.75 814.37 492.35 817.50 494.30 C820.63 496.25 824.65 499.02 826.90 500.90 C829.15 502.78 829.23 503.75 831.00 505.60 C832.77 507.45 835.47 509.90 837.50 512.00 C839.53 514.10 841.42 516.20 843.20 518.20 C844.98 520.20 846.70 522.17 848.20 524.00 C849.70 525.83 850.86 527.53 852.20 529.20 C853.54 530.87 854.02 531.87 856.25 534.00 C858.48 536.13 862.48 539.70 865.60 542.00 C868.73 544.30 871.87 546.15 875.00 547.80 C878.13 549.45 881.27 550.75 884.40 551.90 C887.52 553.05 890.73 553.63 893.75 554.70 C896.77 555.77 898.44 557.08 902.50 558.30 C906.56 559.52 912.89 560.95 918.10 562.00 C923.31 563.05 928.53 563.83 933.75 564.60 C938.97 565.37 944.19 565.97 949.40 566.60 C954.61 567.23 959.80 568.15 965.00 568.40 C970.20 568.65 975.39 568.62 980.60 568.10 C985.81 567.58 991.03 566.55 996.25 565.30 C1001.47 564.05 1006.69 562.28 1011.90 560.60 C1017.11 558.92 1023.65 556.55 1027.50 555.20 C1031.35 553.85 1032.35 553.23 1035.00 552.50 C1037.65 551.77 1039.40 551.08 1043.40 550.80 C1047.40 550.52 1053.27 550.80 1059.00 550.80 C1064.73 550.80 1071.30 551.07 1077.80 550.80 C1084.30 550.53 1090.70 549.85 1098.00 549.20 C1105.30 548.55 1115.07 547.50 1121.60 546.90 C1128.13 546.30 1133.38 545.65 1137.20 545.60 C1141.02 545.55 1142.53 545.80 1144.50 546.60 C1146.47 547.40 1147.72 548.53 1149.00 550.40 C1150.28 552.27 1151.15 553.97 1152.20 557.80 C1153.25 561.63 1154.13 567.90 1155.30 573.40 C1156.47 578.90 1158.55 587.90 1159.20 590.80 L1159.20 590.80 C1156.83 590.70 1151.27 590.55 1145.00 590.20 C1138.73 589.85 1128.89 589.18 1121.60 588.70 C1114.31 588.22 1106.47 587.67 1101.25 587.30 C1096.03 586.93 1094.72 586.80 1090.30 586.50 C1085.88 586.20 1079.65 585.82 1074.70 585.50 C1069.75 585.18 1064.51 585.02 1060.60 584.60 C1056.69 584.18 1055.42 584.17 1051.25 583.00 C1047.08 581.83 1039.56 578.77 1035.60 577.60 C1031.64 576.43 1031.45 577.13 1027.50 576.00 C1023.55 574.87 1017.11 572.12 1011.90 570.80 C1006.69 569.48 1001.47 568.44 996.25 568.10 C991.03 567.76 985.81 568.43 980.60 568.75 C975.39 569.07 970.20 569.41 965.00 570.00 C959.80 570.59 954.61 571.25 949.40 572.30 C944.19 573.35 938.97 575.10 933.75 576.30 C928.53 577.50 923.31 578.40 918.10 579.50 C912.89 580.60 906.67 581.93 902.50 582.90 C898.33 583.87 896.23 584.48 893.10 585.30 C889.98 586.12 886.87 586.68 883.75 587.80 C880.63 588.92 877.52 590.43 874.40 592.00 C871.27 593.57 868.13 595.17 865.00 597.20 C861.87 599.23 858.42 601.70 855.60 604.20 C852.78 606.70 850.28 609.62 848.10 612.20 C845.92 614.78 844.37 617.05 842.50 619.70 C840.63 622.35 838.77 625.45 836.90 628.10 C835.02 630.75 833.44 633.41 831.25 635.60 C829.06 637.79 826.25 639.97 823.75 641.25 C821.25 642.53 818.71 643.17 816.25 643.30 C813.79 643.42 810.83 641.92 809.00 642.00 C807.17 642.08 806.85 642.98 805.30 643.75 C803.75 644.52 801.57 645.59 799.70 646.60 C797.83 647.61 796.13 648.95 794.10 649.80 C792.07 650.65 789.85 651.27 787.50 651.70 C785.15 652.13 782.50 652.17 780.00 652.40 C777.50 652.63 775.00 653.02 772.50 653.10 C770.00 653.18 767.50 653.21 765.00 652.90 C762.50 652.59 760.00 651.92 757.50 651.25 C755.00 650.58 752.65 649.49 750.00 648.90 C747.35 648.31 744.25 647.70 741.60 647.70 C738.95 647.70 736.13 648.15 734.10 648.90 C732.07 649.65 730.82 650.56 729.40 652.20 C727.98 653.84 726.78 655.93 725.60 658.75 C724.42 661.57 723.38 665.35 722.30 669.10 C721.22 672.85 720.18 677.67 719.10 681.25 C718.02 684.83 717.05 688.02 715.80 690.60 C714.55 693.18 713.08 695.37 711.60 696.70 C710.12 698.03 708.47 698.92 706.90 698.60 C705.33 698.28 703.62 696.92 702.20 694.80 C700.78 692.68 699.50 689.72 698.40 685.90 C697.30 682.08 696.38 677.37 695.60 671.90 C694.83 666.43 694.22 660.92 693.75 653.10 C693.28 645.28 693.29 640.52 692.80 625.00 C692.31 609.48 691.53 580.83 690.80 560.00 C690.07 539.17 689.10 518.33 688.40 500.00 C687.70 481.67 687.12 464.67 686.60 450.00 C686.08 435.33 685.52 418.33 685.30 412.00" fill="none" stroke="#8cc531" stroke-width="6" stroke-linecap="round" stroke-linejoin="round"/>
<path d="M1080.30 455.00 C1083.58 453.37 1093.38 448.57 1100.00 445.20 C1106.62 441.83 1113.33 438.33 1120.00 434.80 C1126.67 431.27 1133.73 427.47 1140.00 424.00 C1146.27 420.53 1154.67 415.67 1157.60 414.00" fill="none" stroke="#000" stroke-width="10" stroke-linecap="round" stroke-linejoin="round"/>
<path d="M1077.80 550.80 C1081.17 550.53 1090.70 549.85 1098.00 549.20 C1105.30 548.55 1115.07 547.55 1121.60 546.90 C1128.13 546.25 1133.38 545.40 1137.20 545.30 C1141.02 545.20 1142.53 545.48 1144.50 546.30 C1146.47 547.12 1147.72 548.28 1149.00 550.20 C1150.28 552.12 1151.15 553.93 1152.20 557.80 C1153.25 561.67 1154.13 567.87 1155.30 573.40 C1156.47 578.93 1158.55 588.07 1159.20 591.00 L1159.20 591.00 C1156.83 590.90 1151.27 590.73 1145.00 590.40 C1138.73 590.07 1128.89 589.43 1121.60 589.00 C1114.31 588.57 1106.20 588.32 1101.25 587.80 C1096.30 587.28 1094.38 586.99 1091.90 585.90 C1089.43 584.81 1087.97 583.58 1086.40 581.25 C1084.83 578.92 1083.67 575.54 1082.50 571.90 C1081.33 568.26 1080.18 562.92 1079.40 559.40 C1078.62 555.88 1078.07 552.23 1077.80 550.80 Z" fill="none" stroke="#6a2d02" stroke-width="4.8" stroke-linejoin="round" stroke-linecap="round"/>
<g stroke="#303030" stroke-width="2.0" fill="none" stroke-linecap="butt">
<rect x="83.00" y="13.75" width="1125.10" height="749.55"/>
<line x1="645.40" y1="13.75" x2="645.40" y2="763.30" stroke-width="2.6"/>
<line x1="83.00" y1="388.30" x2="1208.10" y2="388.30" stroke-width="2.3"/>
<line x1="121.70" y1="13.75" x2="121.70" y2="32.75"/>
<line x1="121.70" y1="369.30" x2="121.70" y2="407.30"/>
<line x1="121.70" y1="744.30" x2="121.70" y2="763.30"/>
<line x1="170.20" y1="13.75" x2="170.20" y2="23.25"/>
<line x1="170.20" y1="378.80" x2="170.20" y2="397.80"/>
<line x1="170.20" y1="753.80" x2="170.20" y2="763.30"/>
<line x1="218.70" y1="13.75" x2="218.70" y2="32.75"/>
<line x1="218.70" y1="369.30" x2="218.70" y2="407.30"/>
<line x1="218.70" y1="744.30" x2="218.70" y2="763.30"/>
<line x1="267.20" y1="13.75" x2="267.20" y2="23.25"/>
<line x1="267.20" y1="378.80" x2="267.20" y2="397.80"/>
<line x1="267.20" y1="753.80" x2="267.20" y2="763.30"/>
<line x1="315.70" y1="13.75" x2="315.70" y2="32.75"/>
<line x1="315.70" y1="369.30" x2="315.70" y2="407.30"/>
<line x1="315.70" y1="744.30" x2="315.70" y2="763.30"/>
<line x1="364.20" y1="13.75" x2="364.20" y2="23.25"/>
<line x1="364.20" y1="378.80" x2="364.20" y2="397.80"/>
<line x1="364.20" y1="753.80" x2="364.20" y2="763.30"/>
<line x1="412.70" y1="13.75" x2="412.70" y2="32.75"/>
<line x1="412.70" y1="369.30" x2="412.70" y2="407.30"/>
<line x1="412.70" y1="744.30" x2="412.70" y2="763.30"/>
<line x1="461.20" y1="13.75" x2="461.20" y2="23.25"/>
<line x1="461.20" y1="378.80" x2="461.20" y2="397.80"/>
<line x1="461.20" y1="753.80" x2="461.20" y2="763.30"/>
<line x1="509.70" y1="13.75" x2="509.70" y2="32.75"/>
<line x1="509.70" y1="369.30" x2="509.70" y2="407.30"/>
<line x1="509.70" y1="744.30" x2="509.70" y2="763.30"/>
<line x1="558.20" y1="13.75" x2="558.20" y2="23.25"/>
<line x1="558.20" y1="378.80" x2="558.20" y2="397.80"/>
<line x1="558.20" y1="753.80" x2="558.20" y2="763.30"/>
<line x1="606.70" y1="13.75" x2="606.70" y2="32.75"/>
<line x1="606.70" y1="369.30" x2="606.70" y2="407.30"/>
<line x1="606.70" y1="744.30" x2="606.70" y2="763.30"/>
<line x1="684.00" y1="13.75" x2="684.00" y2="32.75"/>
<line x1="684.00" y1="369.30" x2="684.00" y2="407.30"/>
<line x1="684.00" y1="744.30" x2="684.00" y2="763.30"/>
<line x1="732.50" y1="13.75" x2="732.50" y2="23.25"/>
<line x1="732.50" y1="378.80" x2="732.50" y2="397.80"/>
<line x1="732.50" y1="753.80" x2="732.50" y2="763.30"/>
<line x1="781.00" y1="13.75" x2="781.00" y2="32.75"/>
<line x1="781.00" y1="369.30" x2="781.00" y2="407.30"/>
<line x1="781.00" y1="744.30" x2="781.00" y2="763.30"/>
<line x1="829.50" y1="13.75" x2="829.50" y2="23.25"/>
<line x1="829.50" y1="378.80" x2="829.50" y2="397.80"/>
<line x1="829.50" y1="753.80" x2="829.50" y2="763.30"/>
<line x1="878.00" y1="13.75" x2="878.00" y2="32.75"/>
<line x1="878.00" y1="369.30" x2="878.00" y2="407.30"/>
<line x1="878.00" y1="744.30" x2="878.00" y2="763.30"/>
<line x1="926.50" y1="13.75" x2="926.50" y2="23.25"/>
<line x1="926.50" y1="378.80" x2="926.50" y2="397.80"/>
<line x1="926.50" y1="753.80" x2="926.50" y2="763.30"/>
<line x1="975.00" y1="13.75" x2="975.00" y2="32.75"/>
<line x1="975.00" y1="369.30" x2="975.00" y2="407.30"/>
<line x1="975.00" y1="744.30" x2="975.00" y2="763.30"/>
<line x1="1023.50" y1="13.75" x2="1023.50" y2="23.25"/>
<line x1="1023.50" y1="378.80" x2="1023.50" y2="397.80"/>
<line x1="1023.50" y1="753.80" x2="1023.50" y2="763.30"/>
<line x1="1072.00" y1="13.75" x2="1072.00" y2="32.75"/>
<line x1="1072.00" y1="369.30" x2="1072.00" y2="407.30"/>
<line x1="1072.00" y1="744.30" x2="1072.00" y2="763.30"/>
<line x1="1120.50" y1="13.75" x2="1120.50" y2="23.25"/>
<line x1="1120.50" y1="378.80" x2="1120.50" y2="397.80"/>
<line x1="1120.50" y1="753.80" x2="1120.50" y2="763.30"/>
<line x1="1169.00" y1="13.75" x2="1169.00" y2="32.75"/>
<line x1="1169.00" y1="369.30" x2="1169.00" y2="407.30"/>
<line x1="1169.00" y1="744.30" x2="1169.00" y2="763.30"/>
<line x1="83.00" y1="60.57" x2="92.50" y2="60.57"/>
<line x1="635.90" y1="60.57" x2="654.90" y2="60.57"/>
<line x1="1198.60" y1="60.57" x2="1208.10" y2="60.57"/>
<line x1="83.00" y1="107.39" x2="102.00" y2="107.39"/>
<line x1="626.40" y1="107.39" x2="664.40" y2="107.39"/>
<line x1="1189.10" y1="107.39" x2="1208.10" y2="107.39"/>
<line x1="83.00" y1="154.21" x2="92.50" y2="154.21"/>
<line x1="635.90" y1="154.21" x2="654.90" y2="154.21"/>
<line x1="1198.60" y1="154.21" x2="1208.10" y2="154.21"/>
<line x1="83.00" y1="201.03" x2="102.00" y2="201.03"/>
<line x1="626.40" y1="201.03" x2="664.40" y2="201.03"/>
<line x1="1189.10" y1="201.03" x2="1208.10" y2="201.03"/>
<line x1="83.00" y1="247.84" x2="92.50" y2="247.84"/>
<line x1="635.90" y1="247.84" x2="654.90" y2="247.84"/>
<line x1="1198.60" y1="247.84" x2="1208.10" y2="247.84"/>
<line x1="83.00" y1="294.66" x2="102.00" y2="294.66"/>
<line x1="626.40" y1="294.66" x2="664.40" y2="294.66"/>
<line x1="1189.10" y1="294.66" x2="1208.10" y2="294.66"/>
<line x1="83.00" y1="341.48" x2="92.50" y2="341.48"/>
<line x1="635.90" y1="341.48" x2="654.90" y2="341.48"/>
<line x1="1198.60" y1="341.48" x2="1208.10" y2="341.48"/>
<line x1="83.00" y1="435.18" x2="92.50" y2="435.18"/>
<line x1="635.90" y1="435.18" x2="654.90" y2="435.18"/>
<line x1="1198.60" y1="435.18" x2="1208.10" y2="435.18"/>
<line x1="83.00" y1="482.05" x2="102.00" y2="482.05"/>
<line x1="626.40" y1="482.05" x2="664.40" y2="482.05"/>
<line x1="1189.10" y1="482.05" x2="1208.10" y2="482.05"/>
<line x1="83.00" y1="528.92" x2="92.50" y2="528.92"/>
<line x1="635.90" y1="528.92" x2="654.90" y2="528.92"/>
<line x1="1198.60" y1="528.92" x2="1208.10" y2="528.92"/>
<line x1="83.00" y1="575.80" x2="102.00" y2="575.80"/>
<line x1="626.40" y1="575.80" x2="664.40" y2="575.80"/>
<line x1="1189.10" y1="575.80" x2="1208.10" y2="575.80"/>
<line x1="83.00" y1="622.67" x2="92.50" y2="622.67"/>
<line x1="635.90" y1="622.67" x2="654.90" y2="622.67"/>
<line x1="1198.60" y1="622.67" x2="1208.10" y2="622.67"/>
<line x1="83.00" y1="669.55" x2="102.00" y2="669.55"/>
<line x1="626.40" y1="669.55" x2="664.40" y2="669.55"/>
<line x1="1189.10" y1="669.55" x2="1208.10" y2="669.55"/>
<line x1="83.00" y1="716.42" x2="92.50" y2="716.42"/>
<line x1="635.90" y1="716.42" x2="654.90" y2="716.42"/>
<line x1="1198.60" y1="716.42" x2="1208.10" y2="716.42"/>
</g>
<g font-family="Liberation Sans, Arial, Helvetica, sans-serif" fill="#050505" stroke="#050505" stroke-width="0.5" style="text-rendering:geometricPrecision">
<text transform="translate(70.60 20.75)" font-size="23.00" text-anchor="end">4.4</text>
<text transform="translate(70.60 114.39)" font-size="23.00" text-anchor="end">4.0</text>
<text transform="translate(70.60 208.03)" font-size="23.00" text-anchor="end">3.6</text>
<text transform="translate(70.60 301.66)" font-size="23.00" text-anchor="end">3.2</text>
<text transform="translate(70.60 395.30)" font-size="23.00" text-anchor="end">2.8</text>
<text transform="translate(70.60 489.05)" font-size="23.00" text-anchor="end">4.0</text>
<text transform="translate(70.60 582.80)" font-size="23.00" text-anchor="end">3.6</text>
<text transform="translate(70.60 676.55)" font-size="23.00" text-anchor="end">3.2</text>
<text transform="translate(70.60 770.30)" font-size="23.00" text-anchor="end">2.8</text>
<text transform="translate(1217.30 20.75)" font-size="23.00" text-anchor="start">8</text>
<text transform="translate(1217.30 114.39)" font-size="23.00" text-anchor="start">4</text>
<text transform="translate(1217.30 208.03)" font-size="23.00" text-anchor="start">0</text>
<text transform="translate(1217.30 301.66)" font-size="23.00" text-anchor="start">-4</text>
<text transform="translate(1217.30 395.30)" font-size="23.00" text-anchor="start">-8</text>
<text transform="translate(1217.30 489.05)" font-size="23.00" text-anchor="start">4</text>
<text transform="translate(1217.30 582.80)" font-size="23.00" text-anchor="start">0</text>
<text transform="translate(1217.30 676.55)" font-size="23.00" text-anchor="start">-4</text>
<text transform="translate(1217.30 770.30)" font-size="23.00" text-anchor="start">-8</text>
<text transform="translate(121.40 793.40)" font-size="23.00" text-anchor="middle">0</text>
<text transform="translate(218.20 793.40)" font-size="23.00" text-anchor="middle">50</text>
<text transform="translate(316.80 793.40)" font-size="23.00" text-anchor="middle">100</text>
<text transform="translate(414.60 793.40)" font-size="23.00" text-anchor="middle">150</text>
<text transform="translate(507.15 793.40)" font-size="23.00" text-anchor="middle">200</text>
<text transform="translate(604.55 793.40)" font-size="23.00" text-anchor="middle">250</text>
<text transform="translate(683.70 793.40)" font-size="23.00" text-anchor="middle">0</text>
<text transform="translate(780.50 793.40)" font-size="23.00" text-anchor="middle">50</text>
<text transform="translate(879.10 793.40)" font-size="23.00" text-anchor="middle">100</text>
<text transform="translate(976.90 793.40)" font-size="23.00" text-anchor="middle">150</text>
<text transform="translate(1069.45 793.40)" font-size="23.00" text-anchor="middle">200</text>
<text transform="translate(1166.85 793.40)" font-size="23.00" text-anchor="middle">250</text>
<text transform="translate(643.40 829.10) scale(1.0750 1)" font-size="29.40" text-anchor="middle">Capacity (mAh)</text>
<text transform="translate(21.40 388.65) rotate(-90) scale(1.0940 1)" font-size="29.40" text-anchor="middle">Voltage (V)</text>
<text transform="translate(1273.00 390.00) rotate(-90) scale(1.0640 1)" font-size="29.40" text-anchor="middle">Power (mW)</text>
<text transform="translate(188.95 52.40) scale(1.0500 1)" font-size="30.10" text-anchor="middle">(a)</text>
<text transform="translate(750.65 49.80) scale(1.0500 1)" font-size="30.10" text-anchor="middle">(b)</text>
<text transform="translate(187.75 423.80) scale(1.0500 1)" font-size="30.10" text-anchor="middle">(c)</text>
<text transform="translate(750.65 427.20) scale(1.0500 1)" font-size="30.10" text-anchor="middle">(d)</text>
</g>
<g font-family="Liberation Sans, Arial, Helvetica, sans-serif" fill="#050505" stroke="#050505" stroke-width="0.45">
<line x1="350" y1="253.90" x2="401.6" y2="253.90" stroke="#979797" stroke-width="6.2" stroke-linecap="round"/>
<text transform="translate(410.60 259.00) scale(1.1050 1)" font-size="19.20" text-anchor="start">Full Voltage</text>
<line x1="350" y1="284.20" x2="401.6" y2="284.20" stroke="#8cc531" stroke-width="6.0" stroke-linecap="round"/>
<text transform="translate(410.60 289.30) scale(1.1050 1)" font-size="19.20" text-anchor="start">Full Power</text>
<line x1="350" y1="314.40" x2="401.6" y2="314.40" stroke="#000" stroke-width="4.8" stroke-linecap="round"/>
<text transform="translate(410.60 319.50) scale(1.1050 1)" font-size="19.20" text-anchor="start">Narrow Voltage</text>
<line x1="350" y1="344.60" x2="401.6" y2="344.60" stroke="#6a2d02" stroke-width="4.8" stroke-linecap="round"/>
<text transform="translate(410.60 349.70) scale(1.1050 1)" font-size="19.20" text-anchor="start">Narrow Power</text>
</g>
</g>
</svg>
</body></html>
